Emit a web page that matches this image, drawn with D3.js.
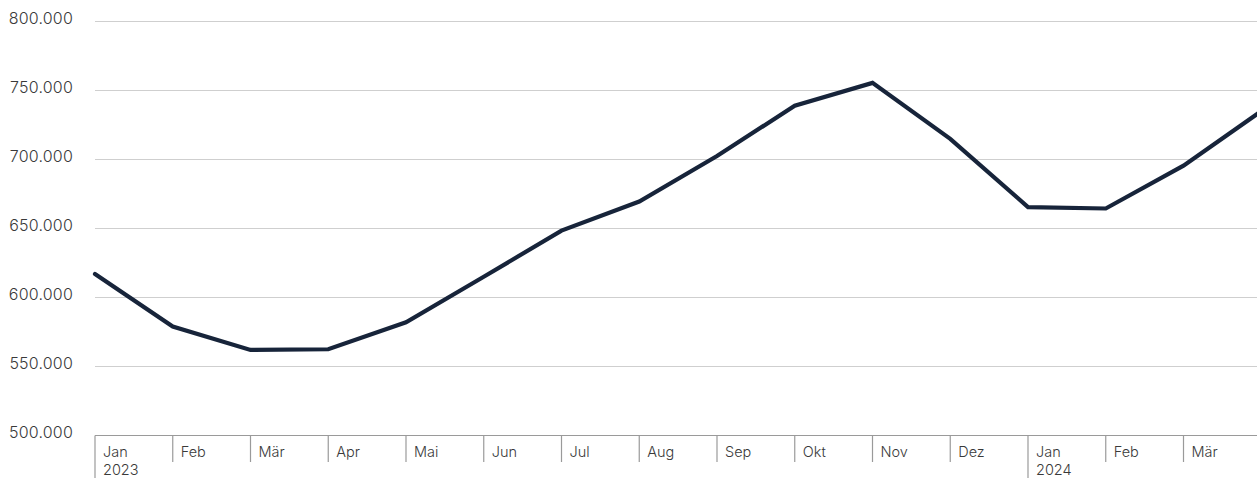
<!DOCTYPE html>
<html>
<head>
<meta charset="utf-8">
<script src="https://cdn.jsdelivr.net/npm/d3@7"></script>
<style>
  html, body { margin: 0; padding: 0; background: #fff; }
  svg { display: block; }
  text { font-family: Inter, "Open Sans", sans-serif; font-weight: 300; fill: #3a3a3a; }
</style>
</head>
<body>
<svg id="chart" width="1257" height="478"></svg>
<script>
const months = ["Jan","Feb","Mär","Apr","Mai","Jun","Jul","Aug","Sep","Okt","Nov","Dez","Jan","Feb","Mär","Apr"];
const years = ["2023","","","","","","","","","","","","2024","","",""];
const values = [617000, 579000, 562000, 562500, 582000, 615000, 648500, 669500, 702500, 739000, 755500, 715000, 665500, 664500, 695500, 735000];
const yTicks = [500000, 550000, 600000, 650000, 700000, 750000, 800000];

const svg = d3.select("#chart");
const W = 1257, H = 478;
const x = d3.scaleLinear().domain([0, months.length - 1]).range([95, 95 + 77.75 * (months.length - 1)]);
const y = d3.scaleLinear().domain([500000, 800000]).range([435.5, 21.5]);
const fmt = v => d3.format(",")(v).replace(/,/g, ".");

// gridlines
svg.append("g").selectAll("line").data(yTicks.filter(d => d > 500000)).join("line")
  .attr("x1", 95).attr("x2", W)
  .attr("y1", d => y(d)).attr("y2", d => y(d))
  .attr("stroke", "#cfcfcf").attr("stroke-width", 1.2);

// y labels
svg.append("g").selectAll("text").data(yTicks).join("text")
  .attr("x", 73).attr("y", d => y(d) - 2)
  .attr("text-anchor", "end").attr("dominant-baseline", "middle")
  .style("font-size", "16px")
  .style("letter-spacing", "0.2px")
  .text(fmt);

// x axis baseline
svg.append("line").attr("x1", 95).attr("x2", W)
  .attr("y1", y(500000)).attr("y2", y(500000))
  .attr("stroke", "#9a9a9a").attr("stroke-width", 1.2);

// ticks (only those inside the visible width)
const idx = d3.range(months.length).filter(i => x(i) < W);
svg.append("g").selectAll("line").data(idx).join("line")
  .attr("x1", i => x(i)).attr("x2", i => x(i))
  .attr("y1", y(500000)).attr("y2", i => years[i] ? 478 : 462)
  .attr("stroke", "#9a9a9a").attr("stroke-width", 1.2);

svg.append("g").selectAll("text").data(idx).join("text")
  .attr("x", i => x(i) + 8).attr("y", 457)
  .style("font-size", "14.5px")
  .text(i => months[i]);

svg.append("g").selectAll("text").data(idx.filter(i => years[i])).join("text")
  .attr("x", i => x(i) + 8).attr("y", 474.5)
  .style("font-size", "14.5px")
  .text(i => years[i]);

// line
const line = d3.line().x((d, i) => x(i)).y(d => y(d));
svg.append("path").datum(values)
  .attr("d", line)
  .attr("fill", "none")
  .attr("stroke", "#17243a")
  .attr("stroke-width", 4.2)
  .attr("stroke-linejoin", "miter")
  .attr("stroke-linecap", "round");
</script>
</body>
</html>
